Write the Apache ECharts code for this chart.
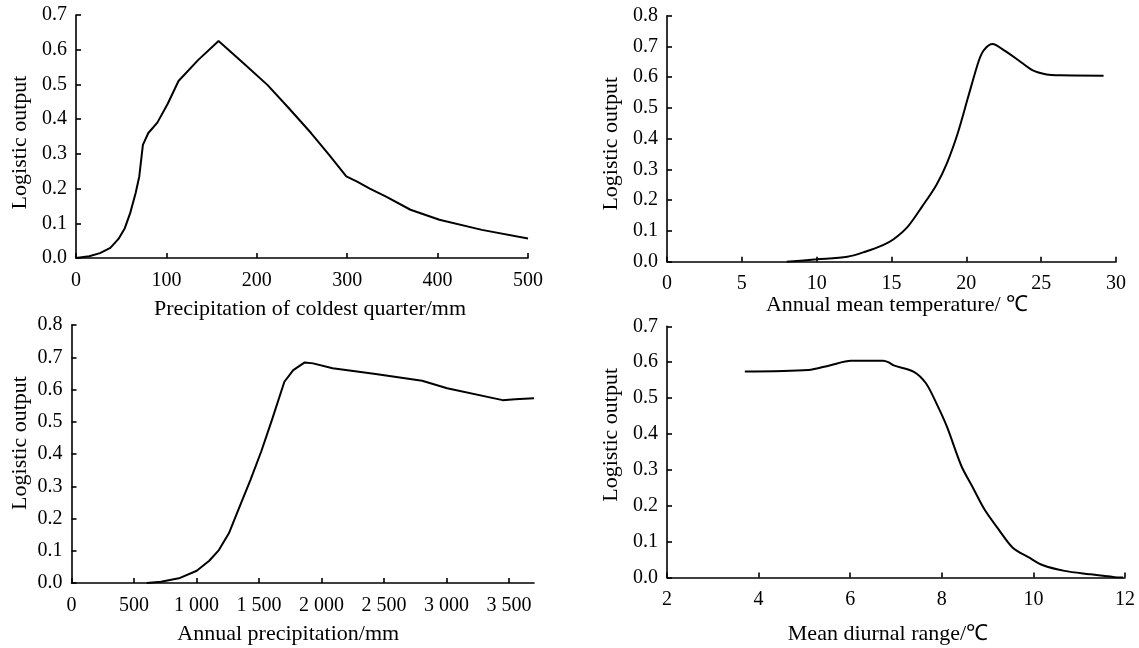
<!DOCTYPE html>
<html>
<head>
<meta charset="utf-8">
<script src="https://cdn.jsdelivr.net/npm/echarts@6/dist/echarts.min.js"></script>
<style>
html,body{margin:0;padding:0;background:#fff;}
#chart{width:1139px;height:648px;}
</style>
</head>
<body>
<div id="chart"></div>
<script>
// Panel 1: Precipitation of coldest quarter
var pcqX = [0, 14.6, 26.5, 38, 47, 54, 60, 66, 70, 74, 80, 90, 101.6, 113.4, 135, 157.7, 185, 212, 236, 260, 280, 299, 311, 325, 343, 370, 402, 449, 500];
var pcqY = [0, 0.005, 0.014, 0.029, 0.055, 0.086, 0.13, 0.187, 0.235, 0.326, 0.36, 0.39, 0.445, 0.51, 0.57, 0.625, 0.562, 0.498, 0.43, 0.36, 0.297, 0.235, 0.22, 0.2, 0.177, 0.139, 0.11, 0.081, 0.056];

// Panel 2: Annual mean temperature
var amtX = [8, 10, 12.05, 13.24, 14.43, 15.14, 16.09, 17.04, 17.99, 18.7, 19.42, 20.13, 20.85, 21.2, 21.75, 22.5, 23.46, 24.41, 25.36, 26.3, 29.17];
var amtY = [0, 0.0076, 0.016, 0.0325, 0.054, 0.073, 0.114, 0.179, 0.249, 0.32, 0.417, 0.537, 0.656, 0.69, 0.708, 0.688, 0.656, 0.623, 0.609, 0.606, 0.605];

// Panel 3: Annual precipitation
var apX = [601, 716, 859, 1002, 1102, 1179, 1259, 1345, 1431, 1517, 1603, 1703, 1774, 1866, 1932, 2089, 2433, 2805, 3005, 3449, 3549, 3700];
var apY = [0, 0.004, 0.0145, 0.038, 0.069, 0.102, 0.154, 0.237, 0.319, 0.407, 0.505, 0.624, 0.66, 0.684, 0.681, 0.666, 0.648, 0.627, 0.604, 0.567, 0.5695, 0.5726];

// Panel 4: Mean diurnal range
var mdrX = [3.7, 5.085, 5.55, 6.02, 6.72, 6.83, 6.95, 7.38, 7.65, 7.88, 8.11, 8.43, 8.66, 8.93, 9.24, 9.55, 9.9, 10.21, 10.68, 11.22, 11.77, 11.96];
var mdrY = [0.574, 0.578, 0.591, 0.604, 0.604, 0.6, 0.591, 0.574, 0.542, 0.486, 0.421, 0.31, 0.255, 0.19, 0.134, 0.083, 0.056, 0.034, 0.0185, 0.0093, 0.001, 0];

var xNames = ['Precipitation of coldest quarter/mm', 'Annual mean temperature/ \u2103', 'Annual precipitation/mm', 'Mean diurnal range/\u2103'];
var yName = 'Logistic output';
var apTicks = [0, 500, 1000, 1500, 2000, 2500, 3000, 3500];

function zip(xs, ys) { return xs.map(function (x, i) { return [x, ys[i]]; }); }
function thou(v) {
  var s = String(Math.round(v));
  return s.length > 3 ? s.slice(0, s.length - 3) + ' ' + s.slice(s.length - 3) : s;
}

var FONT = 'Liberation Serif';
var NAME_SIZE = 22, TICK_SIZE = 20;
var lineStyleAxis = { color: '#000', width: 1.6 };

function xAxisCfg(gi, min, max, interval, name, nameGap, namePad, labelMargin, extra) {
  var a = {
    gridIndex: gi, type: 'value', min: min, max: max, interval: interval,
    name: name, nameLocation: 'middle', nameGap: nameGap,
    nameTextStyle: { fontFamily: FONT, fontSize: NAME_SIZE, color: '#000', padding: namePad },
    axisLine: { show: true, onZero: false, lineStyle: lineStyleAxis },
    axisTick: { show: true, inside: true, length: 5, lineStyle: lineStyleAxis },
    axisLabel: { fontFamily: FONT, fontSize: TICK_SIZE, color: '#000', margin: labelMargin },
    splitLine: { show: false }
  };
  if (extra) { for (var k in extra) a[k] = Object.assign(a[k] || {}, extra[k]); }
  return a;
}
function yAxisCfg(gi, max, nameGap, namePad) {
  return {
    gridIndex: gi, type: 'value', min: 0, max: max, interval: 0.1,
    name: yName, nameLocation: 'middle', nameGap: nameGap,
    nameTextStyle: { fontFamily: FONT, fontSize: NAME_SIZE, color: '#000', padding: namePad },
    axisLine: { show: true, onZero: false, lineStyle: lineStyleAxis },
    axisTick: { show: true, inside: true, length: 5, lineStyle: lineStyleAxis },
    axisLabel: { fontFamily: FONT, fontSize: TICK_SIZE, color: '#000', margin: 9,
      formatter: function (v) { return v.toFixed(1); } },
    splitLine: { show: false }
  };
}
function lineSeries(gi, data, smooth) {
  return {
    type: 'line', xAxisIndex: gi, yAxisIndex: gi, data: data,
    showSymbol: false, symbol: 'none', smooth: smooth,
    lineStyle: { color: '#000', width: 2 }, animation: false
  };
}

var chart = echarts.init(document.getElementById('chart'), null, { renderer: 'canvas' });
chart.setOption({
  backgroundColor: '#fff',
  animation: false,
  grid: [
    { left: 76, right: 611, top: 15, bottom: 390 },
    { left: 667, right: 23, top: 15.7, bottom: 386.3 },
    { left: 71.5, right: 605, top: 325, bottom: 65 },
    { left: 667, right: 14, top: 326.3, bottom: 70.5 }
  ],
  xAxis: [
    xAxisCfg(0, 0, 500, 100, xNames[0], 40, [0, 0, 0, 16], 13),
    xAxisCfg(1, 0, 30, 5, xNames[1], 32, [0, 0, 0, 11], 12),
    xAxisCfg(2, 0, 3700, 500, xNames[2], 40, [0, 29, 0, 0], 13, {
      axisLabel: { customValues: apTicks, formatter: thou },
      axisTick: { customValues: apTicks }
    }),
    xAxisCfg(3, 2, 12, 2, xNames[3], 45.5, [0, 16, 0, 0], 12)
  ],
  yAxis: [
    yAxisCfg(0, 0.7, 45, [0, 12, 0, 0]),
    yAxisCfg(1, 0.8, 45, [0, 10, 0, 0]),
    yAxisCfg(2, 0.8, 40.5, [0, 0, 0, 22]),
    yAxisCfg(3, 0.7, 45, [0, 0, 0, 34])
  ],
  series: [
    lineSeries(0, zip(pcqX, pcqY), false),
    lineSeries(1, zip(amtX, amtY), 0.3),
    lineSeries(2, zip(apX, apY), false),
    lineSeries(3, zip(mdrX, mdrY), 0.3)
  ]
});
</script>
</body>
</html>
